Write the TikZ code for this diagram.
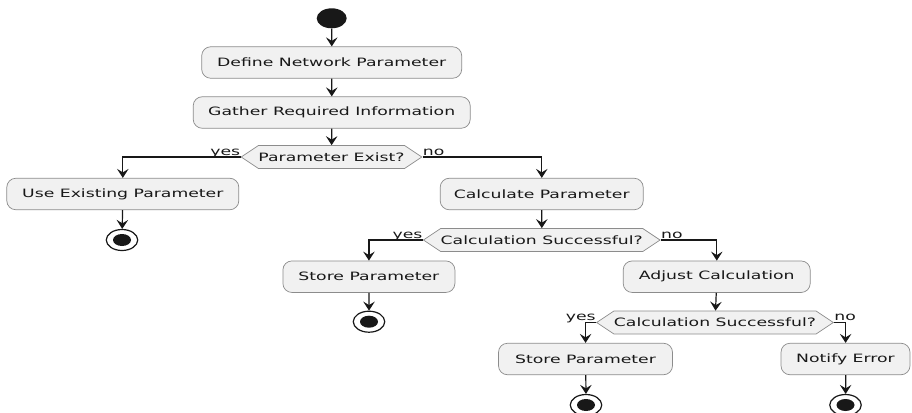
\documentclass[tikz,border=0pt]{standalone}
\usepackage{fontspec}
\setmainfont{DejaVu Sans}
\usetikzlibrary{arrows.meta,shapes.symbols,calc}
\definecolor{actfill}{HTML}{F1F1F1}
\definecolor{actline}{HTML}{8C8C8C}
\definecolor{ink}{HTML}{181818}

\begin{document}
\begin{tikzpicture}[x=0.666667pt, y=-1pt, xscale=1.5,
  every node/.append style={transform shape},
  txt/.style={font=\fontsize{11.5}{13.8}\selectfont, text=ink},
  action/.style={txt, draw=actline, fill=actfill, line width=0.7pt,
    rounded corners=9pt, minimum height=31.5pt, inner xsep=0pt,
    minimum width=#1pt/1.5},
  decision/.style={txt, draw=actline, fill=actfill, line width=0.7pt,
    signal, signal to=west and east, signal pointer angle=90,
    minimum height=23pt, inner xsep=0pt, inner ysep=0pt},
  branch/.style={txt, inner sep=0pt},
  startnode/.style={circle, fill=ink, minimum size=20pt, inner sep=0pt},
  stopnode/.style={circle, draw=ink, line width=1.2pt, fill=white,
    minimum size=21pt, inner sep=0pt},
  stopdot/.style={circle, fill=ink, minimum size=12pt, inner sep=0pt},
  arr/.style={draw=ink, line width=1.2pt,
    -{Stealth[length=9pt, width=11.5pt, inset=3.5pt]}}
]
\useasboundingbox (0,0) rectangle (912,413);
\fill[white] (0,0) rectangle (912,413);

% start
\node[startnode] (start) at (331.7,18.3) {};

% main sequence
\node[action=260] (def)    at (331.7,62.5)  {Define Network Parameter};
\node[action=277] (gather) at (331.7,112.5) {Gather Required Information};
\node[decision]   (d1)     at (331.5,157)   {Parameter Exist?};

% yes: existing parameter
\node[action=232] (use) at (122.8,194) {Use Existing Parameter};
\node[stopnode] (e1) at (122,240) {};
\node[stopdot]  (e1in) at (122,240) {};

% no: calculate
\node[action=203] (calc) at (541.7,194) {Calculate Parameter};
\node[decision]   (d2)   at (541.7,240) {Calculation Successful?};

\node[action=172] (st1) at (368.9,276.7) {Store Parameter};
\node[stopnode] (e2) at (369,321.7) {};
\node[stopdot]  (e2in) at (369,321.7) {};

\node[action=187] (adj) at (716.7,276.7) {Adjust Calculation};
\node[decision]   (d3)  at (715,322.5)   {Calculation Successful?};

\node[action=174] (st2) at (585.5,359) {Store Parameter};
\node[stopnode] (e3) at (586,405) {};
\node[stopdot]  (e3in) at (586,405) {};

\node[action=129] (ntf) at (845.5,359) {Notify Error};
\node[stopnode] (e4) at (845.5,405) {};
\node[stopdot]  (e4in) at (845.5,405) {};

% branch labels
\node[branch, anchor=base east, yshift=2pt] (y1) at (d1.west) {yes};
\node[branch, anchor=base west, yshift=2pt] (n1) at (d1.east) {no};
\node[branch, anchor=base east, yshift=2pt] (y2) at (d2.west) {yes};
\node[branch, anchor=base west, yshift=2pt] (n2) at (d2.east) {no};
\node[branch, anchor=base east, yshift=2pt] (y3) at (d3.west) {yes};
\node[branch, anchor=base west, yshift=2pt] (n3) at (d3.east) {no};

% connectors
\draw[arr] (start) -- (def);
\draw[arr] (def) -- (gather);
\draw[arr] (gather) -- (d1);
\draw[arr] (d1.west) -| (use.north);
\draw[arr] (d1.east) -| (calc.north);
\draw[arr] (use) -- (e1);
\draw[arr] (calc) -- (d2);
\draw[arr] (d2.west) -| (st1.north);
\draw[arr] (d2.east) -| (adj.north);
\draw[arr] (st1) -- (e2);
\draw[arr] (adj) -- (d3);
\draw[arr] (d3.west) -| (st2.north);
\draw[arr] (d3.east) -| (ntf.north);
\draw[arr] (st2) -- (e3);
\draw[arr] (ntf) -- (e4);
\end{tikzpicture}
\end{document}
